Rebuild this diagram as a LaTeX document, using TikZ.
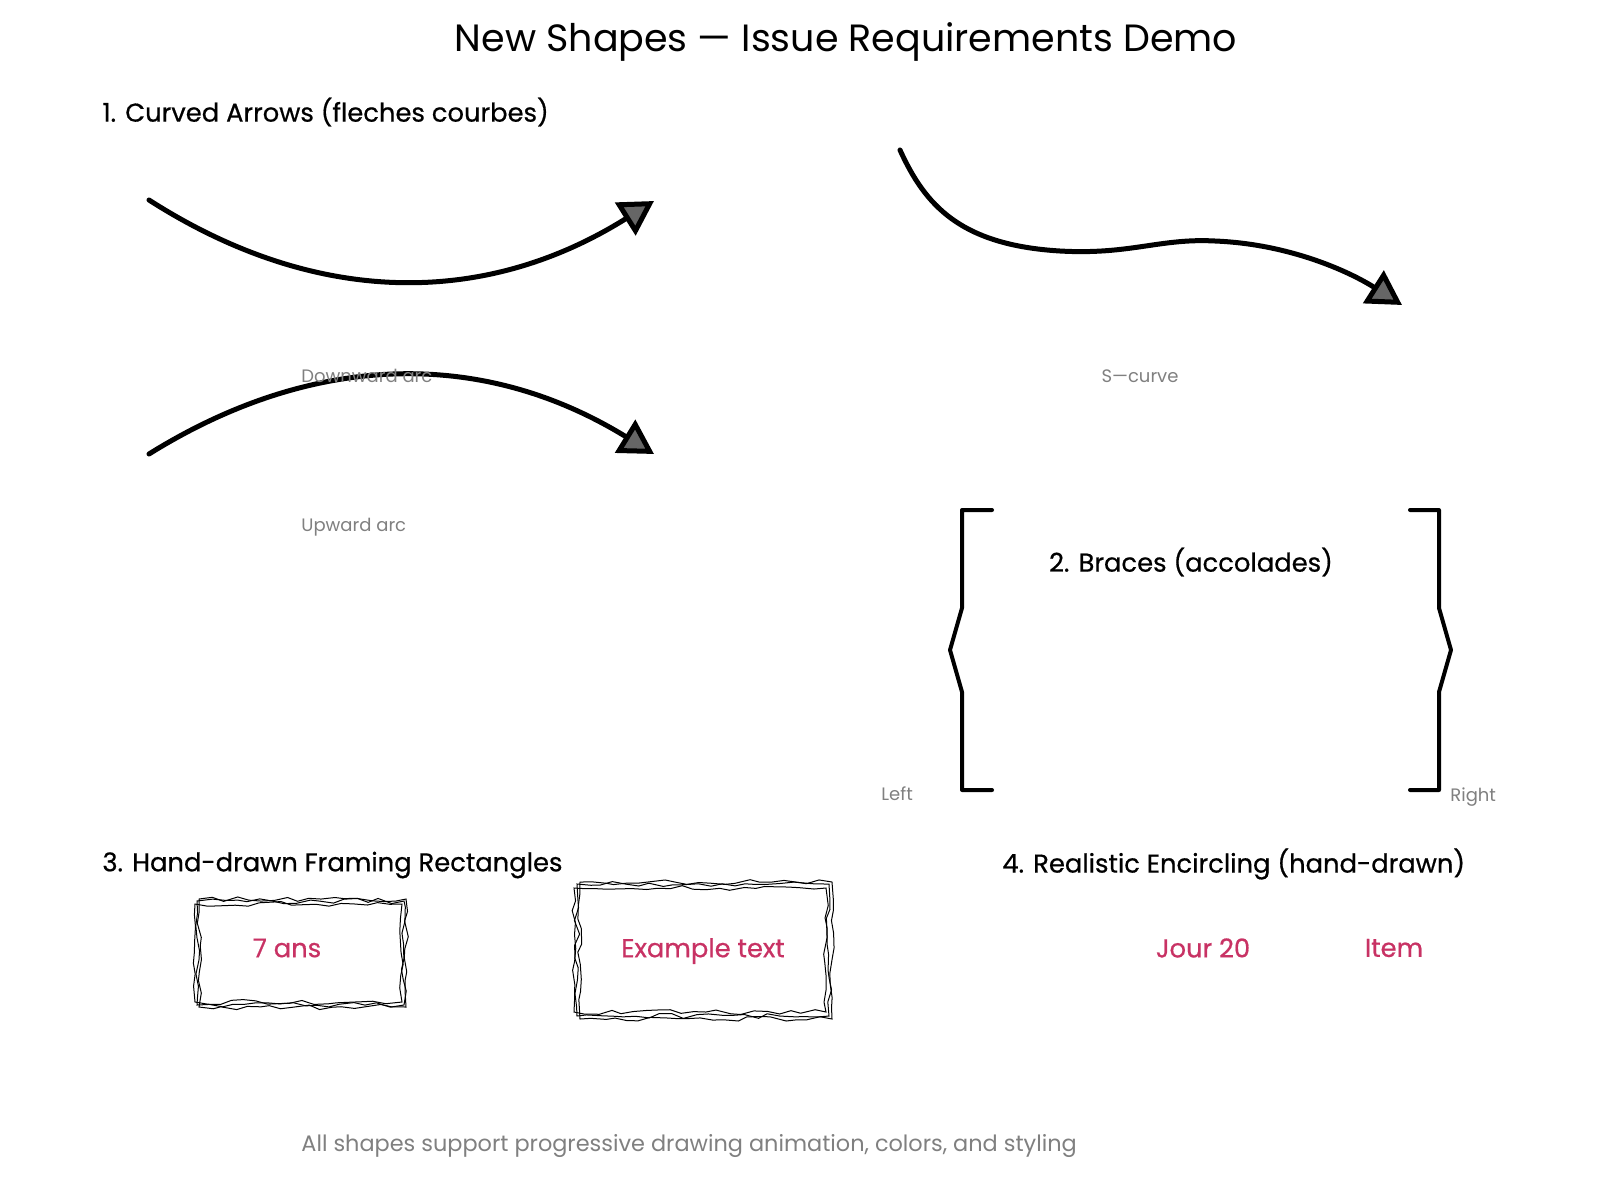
\documentclass[tikz,border=0pt]{standalone}
\usepackage{fontspec}
\setmainfont{Poppins}
\newfontfamily\headfont[FakeBold=0.6]{Poppins}
\usetikzlibrary{arrows.meta,decorations.pathmorphing}
\definecolor{pinktxt}{RGB}{200,50,100}
\definecolor{labgray}{RGB}{128,128,128}
\definecolor{tipgray}{RGB}{102,102,102}
\begin{document}
\begin{tikzpicture}[x=0.5pt,y=-0.5pt,
  titletxt/.style={inner sep=0pt,font=\fontsize{19}{22}\selectfont},
  headtxt/.style={inner sep=0pt,font=\headfont\fontsize{12.9}{15}\selectfont},
  labtxt/.style={inner sep=0pt,text=labgray,font=\fontsize{9}{11}\selectfont},
  pinktxtstyle/.style={inner sep=0pt,text=pinktxt,font=\headfont\fontsize{12.9}{15}\selectfont},
  curvearrow/.style={line width=2.5pt,line cap=round,
    -{Triangle[length=17pt,width=19pt,fill=tipgray,line join=miter]}},
  bracestyle/.style={line width=2pt,line cap=round,line join=round},
  sketch/.style={line width=0.5pt,decorate,
    decoration={random steps,segment length=6pt,amplitude=1.3pt}}
]
\useasboundingbox[fill=white] (0,0) rectangle (1600,1200);

% title and headings
\node[titletxt] (title) at (846,42) {New Shapes — Issue Requirements Demo};
\node[headtxt,anchor=west] (h1) at (102,112) {1. Curved Arrows (fleches courbes)};
\node[headtxt] (h2) at (1191,562) {2. Braces (accolades)};
\node[headtxt,anchor=west] (h3) at (102,865) {3. Hand-drawn Framing Rectangles};
\node[headtxt,anchor=west] (h4) at (1002,864) {4. Realistic Encircling (hand-drawn)};

% curved arrows
\coordinate (a1s) at (149,200);
\coordinate (a1e) at (654,201);
\draw[curvearrow] (a1s) .. controls (316,307) and (485,307) .. (a1e);
\coordinate (a2s) at (149,454);
\coordinate (a2e) at (654,454);
\draw[curvearrow] (a2s) .. controls (316,350) and (485,350) .. (a2e);
\node[labtxt,anchor=west] (l1) at (301,376) {Downward arc};
\node[labtxt,anchor=west] (l2) at (301,527) {Upward arc};

\coordinate (s0) at (900,150);
\coordinate (s1) at (1060,251);
\coordinate (s2) at (1215,241);
\coordinate (s3) at (1402,305);
\draw[curvearrow] (s0) .. controls (925,205) and (960,245) .. (s1)
  .. controls (1130,255) and (1160,238) .. (s2)
  .. controls (1290,244) and (1350,272) .. (s3);
\node[labtxt] (l3) at (1140,376) {S—curve};

% braces
\draw[bracestyle] (992,510) -- (962,510) -- (962,608) -- (950,650) -- (962,692) -- (962,790) -- (992,790);
\draw[bracestyle] (1410,510) -- (1439,510) -- (1439,608) -- (1451,650) -- (1439,692) -- (1439,790) -- (1410,790);
\node[labtxt,anchor=west] (lleft) at (881,794) {Left};
\node[labtxt,anchor=west] (lright) at (1450,797) {Right};

% hand-drawn rectangles
\pgfmathsetseed{7}
\draw[sketch] (197,901) rectangle (404,1005);
\draw[sketch] (195,904) rectangle (402,1002);
\draw[sketch] (199,899) rectangle (406,1007);
\draw[sketch] (577,884) rectangle (829,1016);
\draw[sketch] (574,888) rectangle (826,1012);
\draw[sketch] (580,882) rectangle (832,1019);
\node[pinktxtstyle] (t1) at (287,948) {7 ans};
\node[pinktxtstyle] (t2) at (703,951) {Example text};

% encircling texts
\node[pinktxtstyle] (t3) at (1203,948) {Jour 20};
\node[pinktxtstyle] (t4) at (1394,948) {Item};

% footer
\node[labtxt,anchor=west,font=\fontsize{11.2}{13}\selectfont] (foot) at (301,1146) {All shapes support progressive drawing animation, colors, and styling};
\end{tikzpicture}
\end{document}
